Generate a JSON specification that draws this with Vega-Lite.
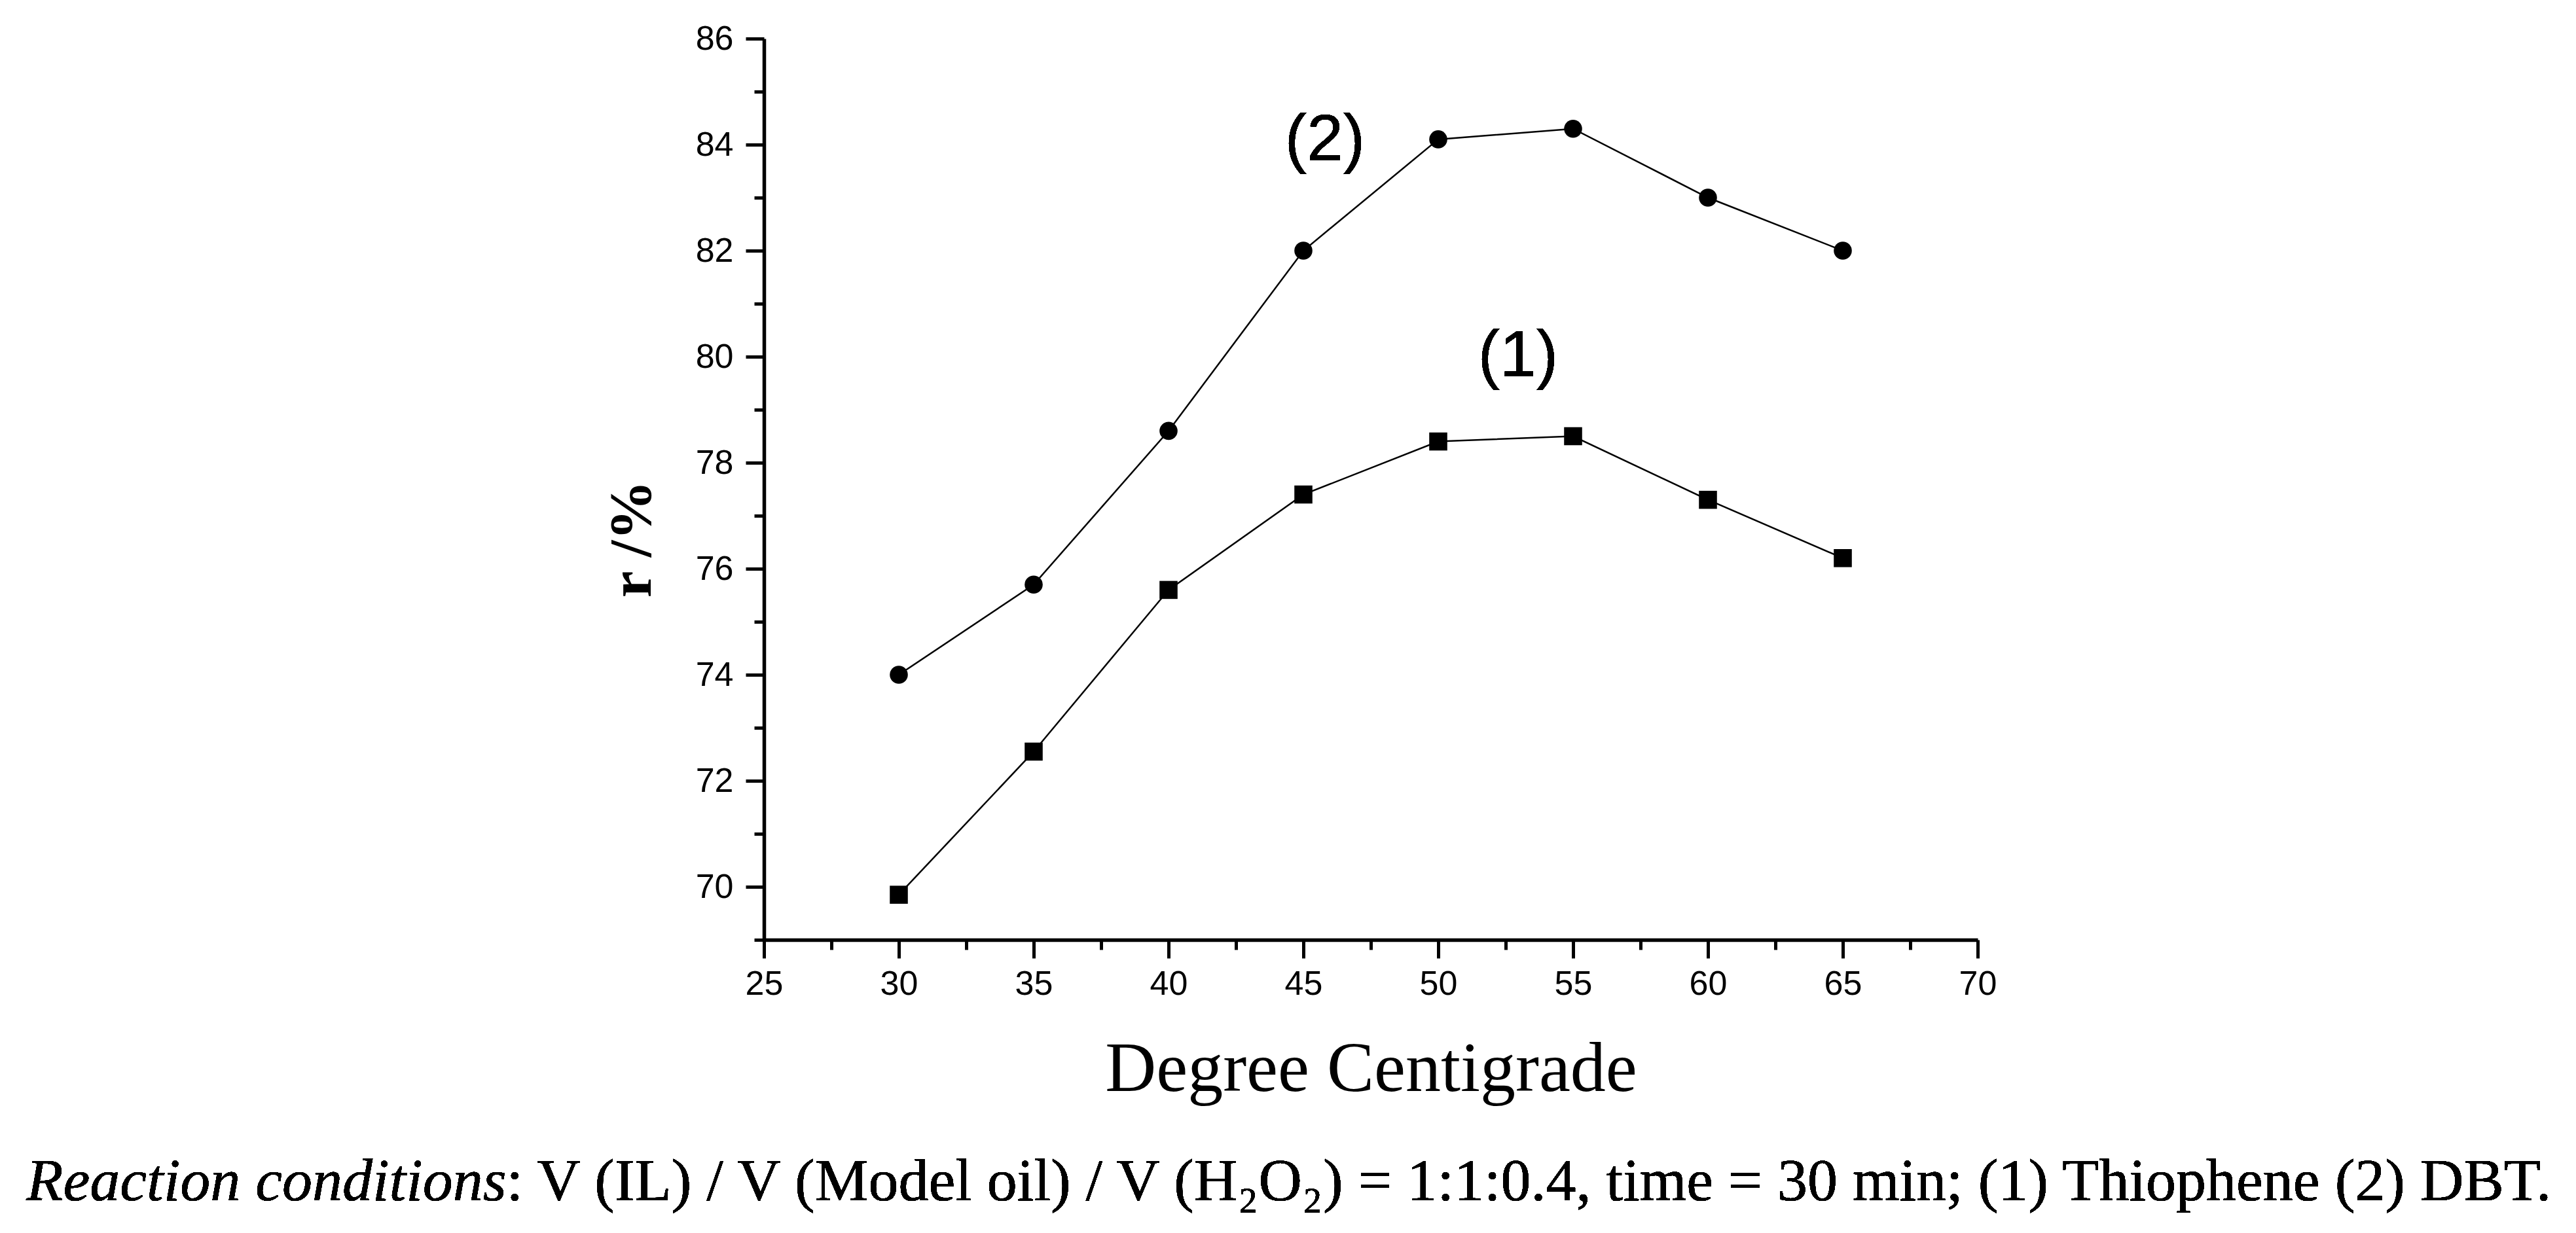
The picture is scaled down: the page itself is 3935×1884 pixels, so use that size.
{
  "$schema": "https://vega.github.io/schema/vega-lite/v6.json",
  "description": "Removal rate vs temperature for thiophene and DBT",
  "width": 1854,
  "height": 1377,
  "autosize": {"type": "none"},
  "padding": {"left": 1167, "top": 59, "right": 914, "bottom": 448},
  "background": "white",
  "config": {"view": {"stroke": null}},
  "data": {
    "values": [
      {"series": "(1) Thiophene", "temp": 30, "r": 69.85},
      {"series": "(1) Thiophene", "temp": 35, "r": 72.55},
      {"series": "(1) Thiophene", "temp": 40, "r": 75.6},
      {"series": "(1) Thiophene", "temp": 45, "r": 77.4},
      {"series": "(1) Thiophene", "temp": 50, "r": 78.4},
      {"series": "(1) Thiophene", "temp": 55, "r": 78.5},
      {"series": "(1) Thiophene", "temp": 60, "r": 77.3},
      {"series": "(1) Thiophene", "temp": 65, "r": 76.2},
      {"series": "(2) DBT", "temp": 30, "r": 74.0},
      {"series": "(2) DBT", "temp": 35, "r": 75.7},
      {"series": "(2) DBT", "temp": 40, "r": 78.6},
      {"series": "(2) DBT", "temp": 45, "r": 82.0},
      {"series": "(2) DBT", "temp": 50, "r": 84.1},
      {"series": "(2) DBT", "temp": 55, "r": 84.3},
      {"series": "(2) DBT", "temp": 60, "r": 83.0},
      {"series": "(2) DBT", "temp": 65, "r": 82.0}
    ]
  },
  "encoding": {
    "x": {
      "field": "temp",
      "type": "quantitative",
      "scale": {"domain": [25, 70], "nice": false, "zero": false},
      "axis": {
        "values": [25, 27.5, 30, 32.5, 35, 37.5, 40, 42.5, 45, 47.5, 50, 52.5, 55, 57.5, 60, 62.5, 65, 67.5, 70],
        "grid": false,
        "domainColor": "black",
        "domainWidth": 5.5,
        "tickColor": "black",
        "tickWidth": 5,
        "tickSize": {"condition": {"test": "datum.value % 5 === 0", "value": 28}, "value": 15},
        "labelExpr": "datum.value % 5 === 0 ? datum.label : ''",
        "labelFont": "Liberation Sans",
        "labelFontSize": 52,
        "labelColor": "black",
        "labelPadding": 14,
        "labelOverlap": false,
        "labelFlush": false,
        "title": "Degree Centigrade",
        "titleFont": "Liberation Serif",
        "titleFontSize": 108,
        "titleFontWeight": "normal",
        "titleColor": "black",
        "titleY": 230,
        "titleBaseline": "alphabetic"
      }
    },
    "y": {
      "field": "r",
      "type": "quantitative",
      "scale": {"domain": [69, 86], "nice": false, "zero": false},
      "axis": {
        "values": [69, 70, 71, 72, 73, 74, 75, 76, 77, 78, 79, 80, 81, 82, 83, 84, 85, 86],
        "grid": false,
        "domainColor": "black",
        "domainWidth": 5.5,
        "tickColor": "black",
        "tickWidth": 5,
        "tickSize": {"condition": {"test": "datum.value % 2 === 0", "value": 28}, "value": 15},
        "labelExpr": "datum.value % 2 === 0 ? datum.label : ''",
        "labelFont": "Liberation Sans",
        "labelFontSize": 52,
        "labelColor": "black",
        "labelPadding": 19,
        "labelOverlap": false,
        "labelFlush": false,
        "title": "r /%",
        "titleFont": "Liberation Serif",
        "titleFontSize": 92,
        "titleFontWeight": "bold",
        "titleColor": "black",
        "titleAngle": 270,
        "titleAlign": "center",
        "titleBaseline": "alphabetic",
        "titleX": -174,
        "titleY": 764
      }
    }
  },
  "layer": [
    {
      "mark": {"type": "line", "color": "black", "strokeWidth": 2.5},
      "encoding": {"detail": {"field": "series"}}
    },
    {
      "mark": {"type": "point", "filled": true, "color": "black", "opacity": 1, "size": 760},
      "encoding": {
        "shape": {
          "field": "series",
          "scale": {"domain": ["(1) Thiophene", "(2) DBT"], "range": ["square", "circle"]},
          "legend": null
        }
      }
    },
    {
      "mark": {"type": "text", "font": "Liberation Sans", "fontSize": 100, "align": "center", "baseline": "alphabetic", "color": "black"},
      "encoding": {
        "x": {"datum": 45.8},
        "y": {"datum": 83.7},
        "text": {"value": "(2)"}
      }
    },
    {
      "mark": {"type": "text", "font": "Liberation Sans", "fontSize": 100, "align": "center", "baseline": "alphabetic", "color": "black"},
      "encoding": {
        "x": {"datum": 52.96},
        "y": {"datum": 79.63},
        "text": {"value": "(1)"}
      }
    },
    {
      "mark": {"type": "text", "font": "Liberation Serif", "fontSize": 92, "fontStyle": "italic", "align": "right", "baseline": "alphabetic", "color": "black"},
      "encoding": {
        "x": {"datum": 15.45},
        "y": {"datum": 64.09},
        "text": {"value": "Reaction conditions"}
      }
    },
    {
      "mark": {"type": "text", "font": "Liberation Serif", "fontSize": 92, "align": "left", "baseline": "alphabetic", "color": "black"},
      "encoding": {
        "x": {"datum": 15.45},
        "y": {"datum": 64.09},
        "text": {"value": ": V (IL) / V (Model oil) / V (H₂O₂) = 1:1:0.4, time = 30 min; (1) Thiophene (2) DBT."}
      }
    }
  ]
}
